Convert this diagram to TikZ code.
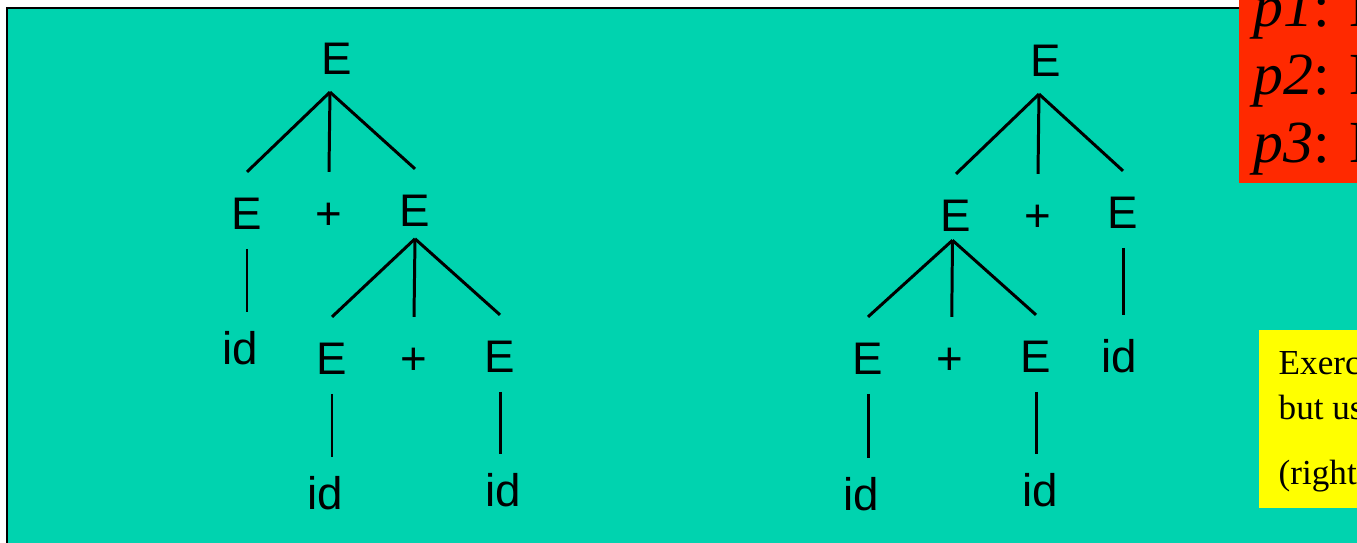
\documentclass[tikz,border=0pt]{standalone}
\usepackage{fontspec}
\setmainfont{Liberation Serif}
\setsansfont{Liberation Sans}
\definecolor{slidebg}{RGB}{0,211,175}
\definecolor{rulered}{RGB}{255,41,0}
\definecolor{notebg}{RGB}{255,255,0}
\tikzset{
  sym/.style={font=\sffamily\fontsize{13}{15}\selectfont, inner sep=0pt, text height=9.4pt, text depth=0pt, outer ysep=4pt},
  branch/.style={line width=0.85pt},
  stem/.style={line width=0.85pt, shorten <=1.5pt, shorten >=1.5pt},
  rule/.style={anchor=base west, inner sep=0pt, font=\fontsize{17}{20}\selectfont},
  note/.style={anchor=base west, inner sep=0pt, font=\fontsize{10}{12}\selectfont}
}
\begin{document}
\begin{tikzpicture}
        \clip (0,0) rectangle (13.57,5.43);
        \fill[white] (0,0) rectangle (13.57,5.43);
        \draw[fill=slidebg, line width=0.6pt] (0.07,5.35) rectangle (14,-1);
        % left tree
        \node (lroot) at (3.37,4.85) [sym]{E};
        \node (la) at (2.47,3.30) [sym]{E};
        \node (lplus) at (3.29,3.30) [sym]{+};
        \node (lb) at (4.15,3.33) [sym]{E};
        \node (laid) at (2.40,1.95) [sym]{id};
        \node (lc) at (3.32,1.85) [sym]{E};
        \node (lplus2) at (4.14,1.85) [sym]{+};
        \node (ld) at (5.00,1.87) [sym]{E};
        \node (lcid) at (3.25,0.50) [sym]{id};
        \node (ldid) at (5.03,0.53) [sym]{id};
        \draw[branch] ([xshift=-2pt,yshift=-1pt]lroot.south) -- ([yshift=3pt]la.north);
        \draw[branch] ([xshift=-2pt,yshift=-1pt]lroot.south) -- ([yshift=3pt]lplus.north);
        \draw[branch] ([xshift=-2pt,yshift=-1pt]lroot.south) -- ([yshift=3pt]lb.north);
        \draw[branch] ([yshift=0.5pt]lb.south) -- ([yshift=3pt]lc.north);
        \draw[branch] ([yshift=0.5pt]lb.south) -- ([yshift=3pt]lplus2.north);
        \draw[branch] ([yshift=0.5pt]lb.south) -- ([yshift=3pt]ld.north);
        \draw[stem] (la.south) -- (la.south |- laid.north);
        \draw[stem] (lc.south) -- (lc.south |- lcid.north);
        \draw[stem] (ld.south) -- (ld.south |- ldid.north);
        % right tree
        \node (rroot) at (10.46,4.83) [sym]{E};
        \node (ra) at (9.56,3.28) [sym]{E};
        \node (rplus) at (10.38,3.28) [sym]{+};
        \node (rb) at (11.23,3.31) [sym]{E};
        \node (rc) at (8.68,1.85) [sym]{E};
        \node (rplus2) at (9.50,1.85) [sym]{+};
        \node (rd) at (10.36,1.87) [sym]{E};
        \node (rbid) at (11.19,1.87) [sym]{id};
        \node (rcid) at (8.61,0.49) [sym]{id};
        \node (rdid) at (10.40,0.53) [sym]{id};
        \draw[branch] ([xshift=-2pt,yshift=-1pt]rroot.south) -- ([yshift=3pt]ra.north);
        \draw[branch] ([xshift=-2pt,yshift=-1pt]rroot.south) -- ([yshift=3pt]rplus.north);
        \draw[branch] ([xshift=-2pt,yshift=-1pt]rroot.south) -- ([yshift=3pt]rb.north);
        \draw[branch] ([xshift=-1pt,yshift=1.5pt]ra.south) -- ([yshift=3pt]rc.north);
        \draw[branch] ([xshift=-1pt,yshift=1.5pt]ra.south) -- ([xshift=0.5pt,yshift=3pt]rplus2.north);
        \draw[branch] ([xshift=-1pt,yshift=1.5pt]ra.south) -- ([yshift=3pt]rd.north);
        \draw[stem, shorten >=3pt] (rb.south) -- (rb.south |- rbid.north);
        \draw[stem] (rc.south) -- (rc.south |- rcid.north);
        \draw[stem] (rd.south) -- (rd.south |- rdid.north);
        % productions and exercise
        \fill[rulered] (12.39,3.60) rectangle (14,6);
        \node (p1) at (12.53,5.16) [rule]{\textit{p1}: E};
        \node (p2) at (12.53,4.48) [rule]{\textit{p2}: E};
        \node (p3) at (12.53,3.80) [rule]{\textit{p3}: E};
        \fill[notebg] (12.59,0.35) rectangle (14,2.13);
        \node (ex1) at (12.78,1.68) [note]{Exerc};
        \node (ex2) at (12.78,1.23) [note]{but us};
        \node (ex3) at (12.78,0.58) [note]{(right};
\end{tikzpicture}
\end{document}
